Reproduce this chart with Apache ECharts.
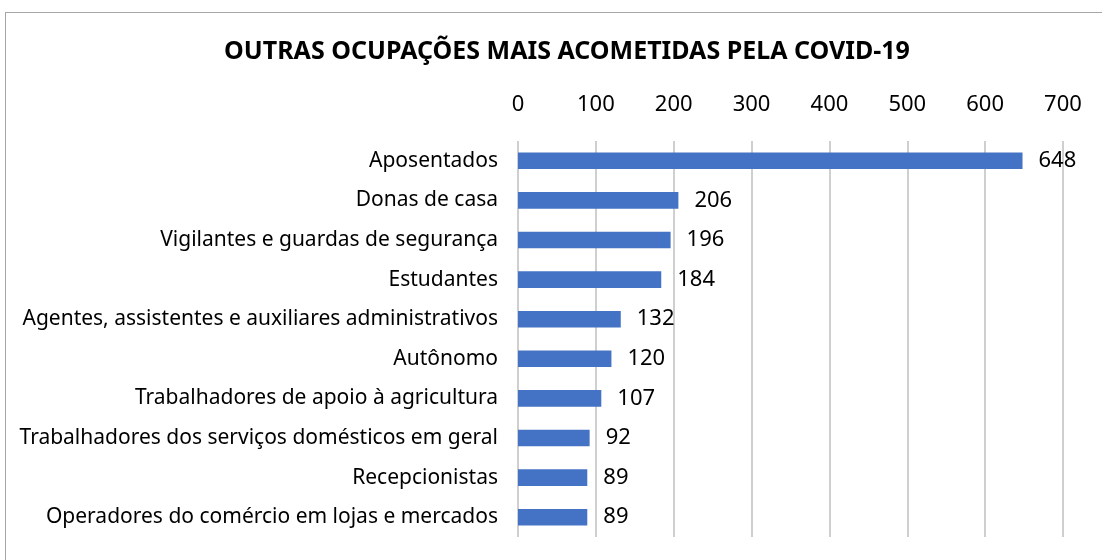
<!DOCTYPE html>
<html>
<head>
<meta charset="utf-8">
<script src="https://cdn.jsdelivr.net/npm/echarts@6/dist/echarts.min.js"></script>
<style>
  html, body { margin: 0; padding: 0; background: #fff; }
  #frame { position: absolute; left: 5px; top: 12px; width: 1097px; height: 548px;
           border-left: 1px solid #a6a6a6; border-top: 1px solid #a6a6a6; }
  #chart { position: absolute; left: 0; top: 0; width: 1102px; height: 560px; }
</style>
</head>
<body>
<div id="frame"></div>
<div id="chart"></div>
<script>
  // categorias e valores
  var ocupacoes = [
    "Aposentados",
    "Donas de casa",
    "Vigilantes e guardas de segurança",
    "Estudantes",
    "Agentes, assistentes e auxiliares administrativos",
    "Autônomo",
    "Trabalhadores de apoio à agricultura",
    "Trabalhadores dos serviços domésticos em geral",
    "Recepcionistas",
    "Operadores do comércio em lojas e mercados"
  ];
  var casos = [648, 206, 196, 184, 132, 120, 107, 92, 89, 89];
  var eixoMax = 700;
  var eixoPasso = 100;

  var fonte = "'Noto Sans', 'Open Sans', sans-serif";
  var myChart = echarts.init(document.getElementById("chart"));
  myChart.setOption({
    animation: false,
    title: {
      text: "OUTRAS OCUPAÇÕES MAIS ACOMETIDAS PELA COVID-19",
      left: 562,
      textAlign: "center",
      top: 34,
      textStyle: { fontFamily: fonte, fontSize: 25, fontWeight: "bold", color: "#000" }
    },
    grid: { left: 518, right: 39, top: 141, bottom: 23 },
    xAxis: {
      type: "value",
      position: "top",
      min: 0,
      max: eixoMax,
      interval: eixoPasso,
      axisLine: { show: false },
      axisTick: { show: false },
      axisLabel: { fontFamily: fonte, fontSize: 22, color: "#000", margin: 25 },
      splitLine: { lineStyle: { color: "#bfbfbf", width: 1.5 } }
    },
    yAxis: {
      type: "category",
      inverse: true,
      data: ocupacoes,
      axisLine: { show: false },
      axisTick: { show: false },
      axisLabel: { fontFamily: fonte, fontSize: 21, color: "#000", margin: 20 }
    },
    series: [
      {
        type: "bar",
        data: casos,
        barWidth: "42%",
        itemStyle: { color: "#4472C4" },
        label: {
          show: true,
          position: "right",
          distance: 16,
          fontFamily: fonte,
          fontSize: 22,
          color: "#000"
        }
      }
    ]
  });
</script>
</body>
</html>
